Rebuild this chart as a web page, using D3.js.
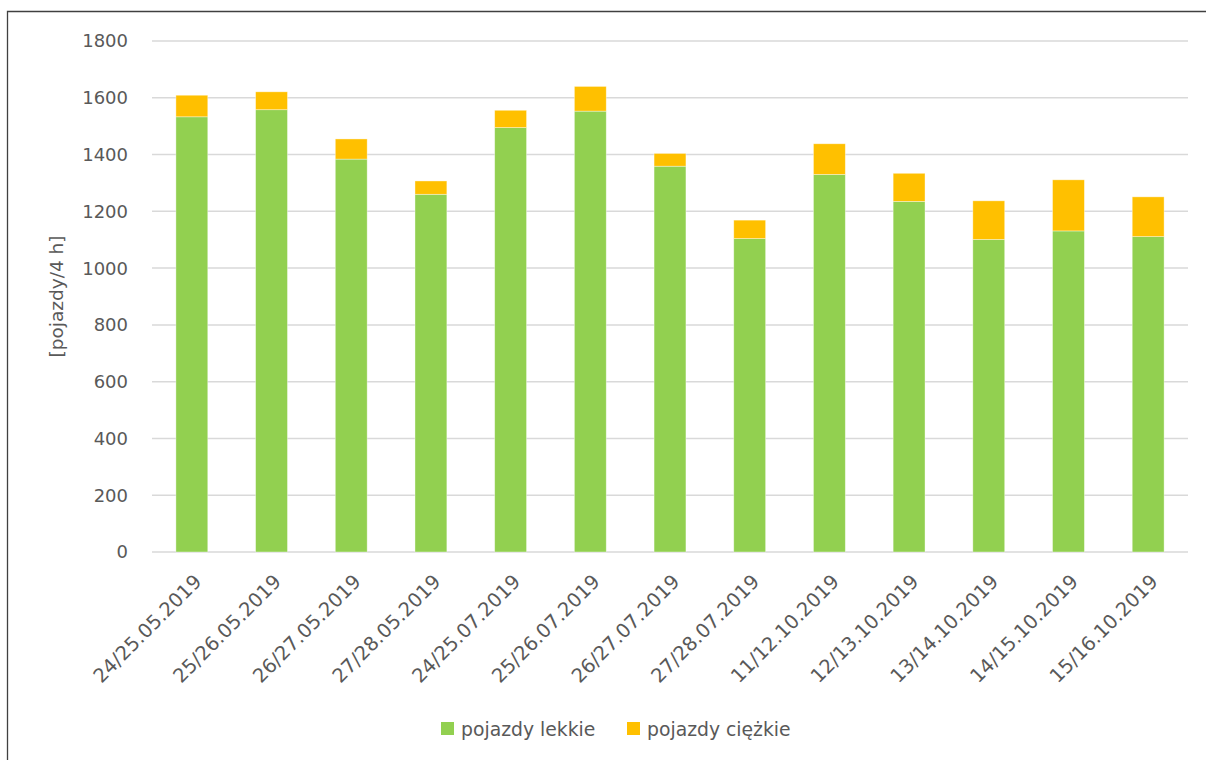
<!DOCTYPE html>
<meta charset="utf-8">
<style>
  body { margin: 0; background: #fff; }
  text { font-family: "DejaVu Sans", sans-serif; fill: #595959; }
</style>
<body>
<script src="https://d3js.org/d3.v7.min.js"></script>
<script>
// nights of measurement
var dates = ["24/25.05.2019", "25/26.05.2019", "26/27.05.2019", "27/28.05.2019",
  "24/25.07.2019", "25/26.07.2019", "26/27.07.2019", "27/28.07.2019",
  "11/12.10.2019", "12/13.10.2019", "13/14.10.2019", "14/15.10.2019", "15/16.10.2019"];
var light = [1533, 1558, 1384, 1260, 1495, 1553, 1359, 1104, 1330, 1235, 1101, 1131, 1111];
var heavy = [76, 63, 71, 47, 61, 87, 45, 65, 108, 99, 136, 180, 140];
var seriesNames = ["pojazdy lekkie", "pojazdy ciężkie"];
var seriesColors = ["#92D050", "#FFC000"];
var yTicks = [0, 200, 400, 600, 800, 1000, 1200, 1400, 1600, 1800];

var width = 1206, height = 760;

var rows = dates.map((d, i) => ({date: d, lekkie: light[i], ciezkie: heavy[i]}));
var stack = d3.stack().keys(["lekkie", "ciezkie"])(rows);

var x = d3.scaleBand()
    .domain(dates)
    .range([152, 1188])
    .paddingInner(0.6)
    .paddingOuter(0.3);

var y = d3.scaleLinear()
    .domain([0, 1800])
    .range([552, 41]);

var svg = d3.select("body")
  .append("svg")
    .attr("width", width)
    .attr("height", height);

// frame
svg.append("path")
    .attr("d", "M7.5,760 V11.5 H1206")
    .attr("fill", "none")
    .attr("stroke", "#404040")
    .attr("stroke-width", 1.3);

// gridlines
svg.append("g")
  .selectAll("line")
  .data(yTicks)
  .enter().append("line")
    .attr("x1", 152)
    .attr("x2", 1188)
    .attr("y1", d => y(d))
    .attr("y2", d => y(d))
    .attr("stroke", "#d9d9d9")
    .attr("stroke-width", 1.5);

// y tick labels
svg.append("g")
  .selectAll("text")
  .data(yTicks)
  .enter().append("text")
    .attr("x", 128)
    .attr("y", d => y(d))
    .attr("dy", "0.36em")
    .attr("text-anchor", "end")
    .style("font-size", "18px")
    .text(d => d);

// bars
svg.append("g")
  .selectAll("g")
  .data(stack)
  .enter().append("g")
    .attr("fill", (d, i) => seriesColors[i])
  .selectAll("rect")
  .data(d => d)
  .enter().append("rect")
    .attr("x", d => x(d.data.date))
    .attr("width", x.bandwidth())
    .attr("y", d => y(d[1]))
    .attr("height", d => y(d[0]) - y(d[1]))
    .attr("stroke", "#fff")
    .attr("stroke-opacity", 0.5)
    .attr("stroke-width", 0.75);

// x labels
svg.append("g")
  .selectAll("text")
  .data(dates)
  .enter().append("text")
    .attr("transform", d => `translate(${x(d) + x.bandwidth() / 2 + 6},${578}) rotate(-45)`)
    .attr("text-anchor", "end")
    .attr("dy", "0.35em")
    .style("font-size", "19.5px")
    .text(d => d);

// y axis title
svg.append("text")
    .attr("transform", `translate(57,${(y(0) + y(1800)) / 2}) rotate(-90)`)
    .attr("text-anchor", "middle")
    .attr("dy", "0.35em")
    .style("font-size", "18.5px")
    .text("[pojazdy/4 h]");

// legend
var legendX = [441, 627];
var legend = svg.append("g")
  .selectAll("g")
  .data(seriesNames)
  .enter().append("g")
    .attr("transform", (d, i) => `translate(${legendX[i]},722)`);

legend.append("rect")
    .attr("width", 13)
    .attr("height", 13)
    .attr("fill", (d, i) => seriesColors[i]);

legend.append("text")
    .attr("x", 20)
    .attr("y", 14)
    .style("font-size", "18.8px")
    .text(d => d);
</script>
</body>
